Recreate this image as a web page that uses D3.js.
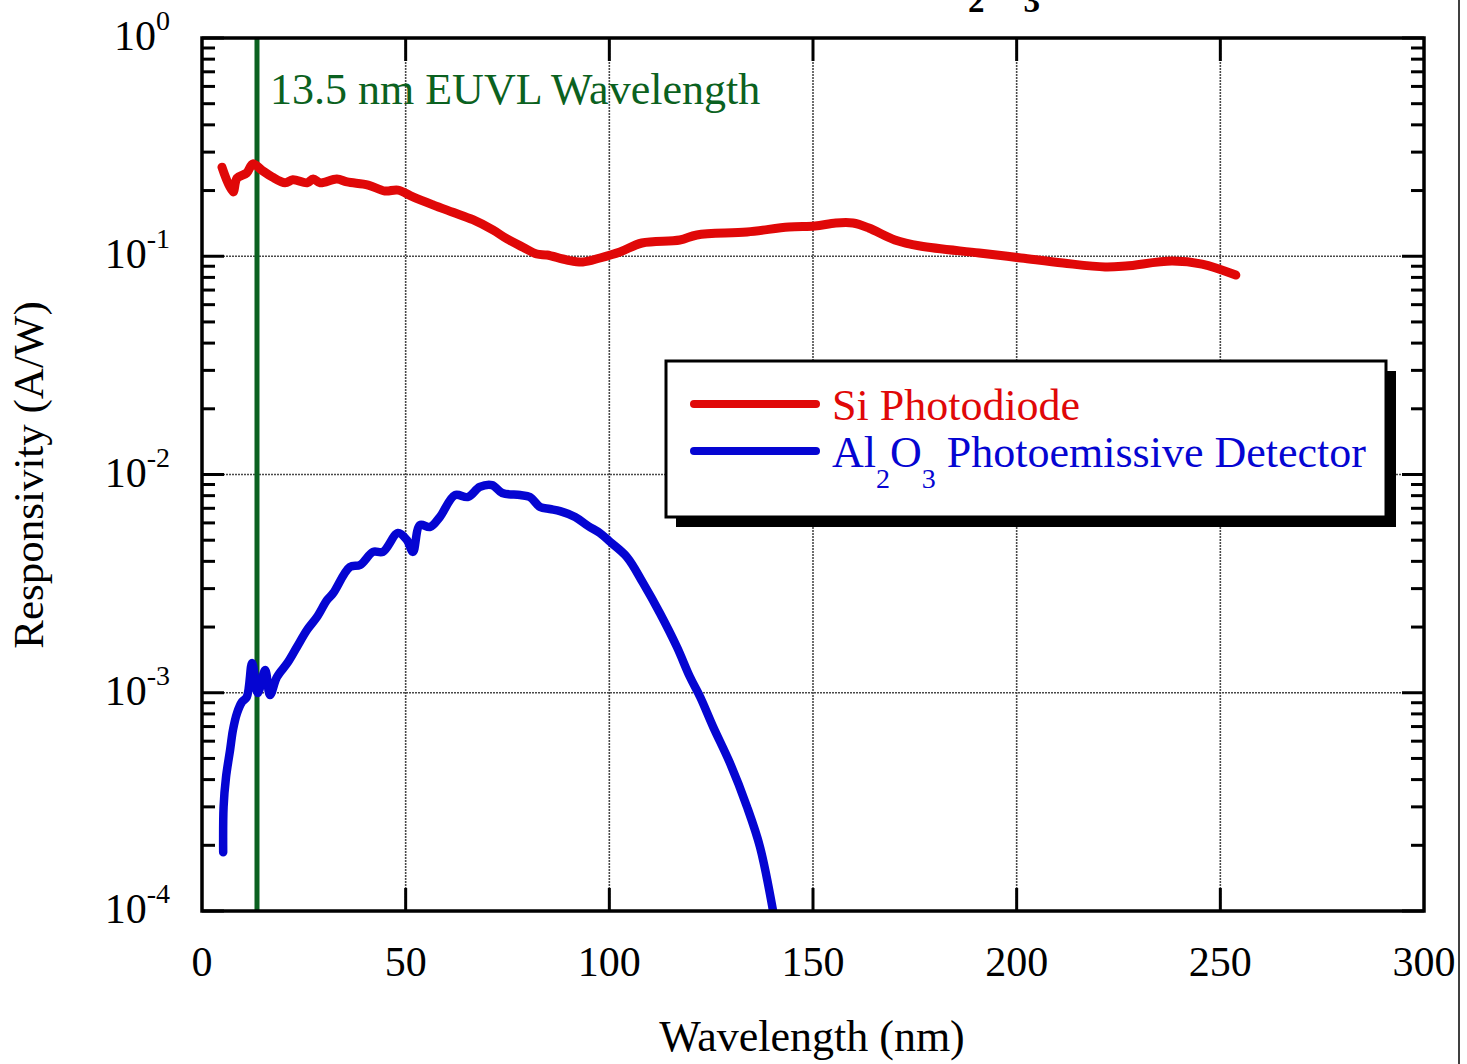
<!DOCTYPE html>
<html>
<head>
<meta charset="utf-8">
<script src="https://cdn.jsdelivr.net/npm/d3@7"></script>
<style>
  html, body { margin: 0; padding: 0; background: #fff; }
  svg { display: block; }
  text { font-family: "Liberation Serif", "Times New Roman", serif; }
</style>
</head>
<body>
<svg id="chart" width="1467" height="1064"></svg>
<script>
// ---- Data ----
const siWavelength = [4.9, 7.6, 8.6, 11.0, 12.5, 14.7, 17.2, 20.4, 22.3, 25.8, 27.3, 29.0, 33.1, 35.6, 40.8, 44.9, 48.1, 51.8, 56.7, 61.6, 66.5, 71.4, 74.9, 78.8, 82.2, 84.7, 89.6, 93.5, 97.7, 102.6, 108.0, 117.3, 121.5, 133.8, 144.1, 150.5, 155.6, 159.8, 163.7, 170.1, 176.3, 190.8, 201.1, 211.4, 221.7, 226.8, 238.1, 245.5, 253.8];
const siResponsivity = [0.256, 0.197, 0.228, 0.241, 0.265, 0.248, 0.231, 0.217, 0.224, 0.217, 0.226, 0.217, 0.226, 0.219, 0.212, 0.199, 0.201, 0.187, 0.172, 0.159, 0.147, 0.132, 0.120, 0.110, 0.1024, 0.1013, 0.0961, 0.0941, 0.0982, 0.1046, 0.115, 0.1187, 0.1252, 0.1292, 0.1362, 0.1376, 0.142, 0.142, 0.1347, 0.1187, 0.1114, 0.1035, 0.0982, 0.0931, 0.0893, 0.0902, 0.0951, 0.0921, 0.082];

const alWavelength = [5.2, 5.3, 5.9, 6.9, 7.6, 8.6, 9.8, 11.0, 12.3, 13.7, 15.5, 16.7, 18.4, 21.1, 23.3, 25.8, 28.2, 30.7, 32.2, 36.3, 38.8, 42.0, 44.4, 48.1, 50.3, 51.8, 53.5, 56.0, 58.4, 62.1, 65.3, 68.2, 71.2, 73.7, 78.1, 80.5, 83.0, 85.4, 87.9, 91.6, 94.8, 97.7, 100.2, 104.3, 108.3, 112.4, 116.6, 119.8, 122.3, 125.5, 129.6, 133.8, 137.0, 140.2];
const alResponsivity = [1.86e-4, 3.0e-4, 4.11e-4, 5.47e-4, 6.75e-4, 8.07e-4, 9.07e-4, 9.56e-4, 1.37e-3, 9.97e-4, 1.27e-3, 9.76e-4, 1.18e-3, 1.38e-3, 1.62e-3, 1.94e-3, 2.22e-3, 2.66e-3, 2.86e-3, 3.77e-3, 3.85e-3, 4.42e-3, 4.42e-3, 5.39e-3, 5.01e-3, 4.42e-3, 5.87e-3, 5.75e-3, 6.39e-3, 8.05e-3, 7.89e-3, 8.77e-3, 8.95e-3, 8.23e-3, 8.05e-3, 7.89e-3, 7.10e-3, 6.95e-3, 6.8e-3, 6.39e-3, 5.81e-3, 5.39e-3, 4.91e-3, 4.19e-3, 3.18e-3, 2.32e-3, 1.62e-3, 1.18e-3, 9.56e-4, 6.97e-4, 4.77e-4, 3.0e-4, 1.96e-4, 1.0e-4];

const xTicks = [0, 50, 100, 150, 200, 250, 300];
const yDecades = [0, -1, -2, -3, -4];
const euvlWavelength = 13.5;
const seriesNames = ["Si Photodiode", "Photoemissive Detector"];
const xTitle = "Wavelength (nm)";
const yTitle = "Responsivity (A/W)";
const euvlLabel = "13.5 nm EUVL Wavelength";

// ---- Layout ----
const svg = d3.select("#chart");
const L = 202, R = 1424, T = 38, B = 911;
const x = d3.scaleLinear().domain([0, 300]).range([L, R]);
const y = d3.scaleLog().domain([1e-4, 1]).range([B, T]);
const FS = 42, FL = 44, SUP = 28;
const red = "#e00808", blue = "#0505d2", green = "#0b6120";

// cut-off title (only its subscripts reach into the picture, as in the reference)
const title = svg.append("text").attr("x", 918).attr("y", -6)
  .attr("font-size", 50).attr("font-weight", "bold").attr("fill", "#000");
title.append("tspan").text("Al");
title.append("tspan").attr("font-size", 33).attr("dy", 18).text("2");
title.append("tspan").attr("dy", -18).text("O");
title.append("tspan").attr("font-size", 33).attr("dy", 18).text("3");

// right page border
svg.append("line").attr("x1", 1459).attr("x2", 1459).attr("y1", 0).attr("y2", 1064)
  .attr("stroke", "#000").attr("stroke-width", 1.5);

// grid
const grid = svg.append("g").attr("stroke", "#4a4a4a").attr("stroke-width", 1.6).attr("stroke-dasharray", "2,1");
xTicks.slice(1, -1).forEach(t => grid.append("line").attr("x1", x(t)).attr("x2", x(t)).attr("y1", T).attr("y2", B));
yDecades.slice(1, -1).forEach(d => grid.append("line").attr("x1", L).attr("x2", R).attr("y1", y(Math.pow(10, d))).attr("y2", y(Math.pow(10, d))));

// clip
svg.append("clipPath").attr("id", "clip").append("rect").attr("x", L).attr("y", T - 2).attr("width", R - L).attr("height", B - T + 2);

// green EUVL line
svg.append("line").attr("x1", x(euvlWavelength)).attr("x2", x(euvlWavelength)).attr("y1", T).attr("y2", B)
  .attr("stroke", green).attr("stroke-width", 5);
svg.append("text").attr("x", 270).attr("y", 104).attr("font-size", FL).attr("fill", green).text(euvlLabel);

// data lines
const line = d3.line().x(d => x(d[0])).y(d => y(d[1])).curve(d3.curveCatmullRom.alpha(0.5));
const plot = svg.append("g").attr("clip-path", "url(#clip)");
plot.append("path").datum(d3.zip(alWavelength, alResponsivity)).attr("d", line)
  .attr("fill", "none").attr("stroke", blue).attr("stroke-width", 8.5).attr("stroke-linejoin", "round").attr("stroke-linecap", "round");
plot.append("path").datum(d3.zip(siWavelength, siResponsivity)).attr("d", line)
  .attr("fill", "none").attr("stroke", red).attr("stroke-width", 9).attr("stroke-linejoin", "round").attr("stroke-linecap", "round");

// axes (ticks inward on all sides)
const axG = svg.append("g").attr("stroke", "#000").attr("stroke-width", 3).attr("stroke-linecap", "butt");
yDecades.forEach(d => {
  const base = Math.pow(10, d);
  const yy = y(base);
  axG.append("line").attr("x1", L).attr("x2", L + 22).attr("y1", yy).attr("y2", yy);
  axG.append("line").attr("x1", R).attr("x2", R - 22).attr("y1", yy).attr("y2", yy);
  if (d < 0) {
    for (let k = 2; k <= 9; k++) {
      const ym = y(base * k);
      axG.append("line").attr("x1", L).attr("x2", L + 13).attr("y1", ym).attr("y2", ym);
      axG.append("line").attr("x1", R).attr("x2", R - 13).attr("y1", ym).attr("y2", ym);
    }
  }
});
xTicks.slice(1, -1).forEach(t => {
  axG.append("line").attr("x1", x(t)).attr("x2", x(t)).attr("y1", B).attr("y2", B - 23);
  axG.append("line").attr("x1", x(t)).attr("x2", x(t)).attr("y1", T).attr("y2", T + 23);
});
svg.append("rect").attr("x", L).attr("y", T).attr("width", R - L).attr("height", B - T)
  .attr("fill", "none").attr("stroke", "#000").attr("stroke-width", 3.5);

// tick labels
xTicks.forEach(t => svg.append("text").attr("x", x(t)).attr("y", 976).attr("text-anchor", "middle")
  .attr("font-size", FS).attr("fill", "#000").text(t));
yDecades.forEach(d => {
  const tx = svg.append("text").attr("x", 170).attr("y", y(Math.pow(10, d)) + 12).attr("text-anchor", "end")
    .attr("font-size", FS).attr("fill", "#000");
  tx.append("tspan").text("10");
  tx.append("tspan").attr("font-size", SUP).attr("dy", -20).text(d === 0 ? "0" : String(d));
});

// axis titles
svg.append("text").attr("x", 812).attr("y", 1051).attr("text-anchor", "middle")
  .attr("font-size", FL).attr("fill", "#000").text(xTitle);
svg.append("text").attr("transform", `translate(43,475) rotate(-90)`).attr("text-anchor", "middle")
  .attr("font-size", 43).attr("fill", "#000").text(yTitle);

// legend
const lg = svg.append("g");
const bx = 666, by = 361, bw = 720, bh = 156, sh = 10;
lg.append("path").attr("d", `M${bx + sh},${by + bh} L${bx + bw},${by + bh} L${bx + bw},${by + sh} L${bx + bw + sh},${by + sh} L${bx + bw + sh},${by + bh + sh} L${bx + sh},${by + bh + sh} Z`).attr("fill", "#000");
lg.append("rect").attr("x", bx).attr("y", by).attr("width", bw).attr("height", bh)
  .attr("fill", "#fff").attr("stroke", "#000").attr("stroke-width", 3);
lg.append("line").attr("x1", 694).attr("x2", 816).attr("y1", 404).attr("y2", 404)
  .attr("stroke", red).attr("stroke-width", 8).attr("stroke-linecap", "round");
lg.append("line").attr("x1", 694).attr("x2", 816).attr("y1", 451).attr("y2", 451)
  .attr("stroke", blue).attr("stroke-width", 8).attr("stroke-linecap", "round");
lg.append("text").attr("x", 832).attr("y", 420).attr("font-size", FL).attr("fill", red).text(seriesNames[0]);
const t2 = lg.append("text").attr("x", 832).attr("y", 467).attr("font-size", FL).attr("fill", blue);
t2.append("tspan").text("Al");
t2.append("tspan").attr("font-size", SUP).attr("dy", 21).text("2");
t2.append("tspan").attr("dy", -21).text("O");
t2.append("tspan").attr("font-size", SUP).attr("dy", 21).text("3");
t2.append("tspan").attr("dy", -21).text(" " + seriesNames[1]);
</script>
</body>
</html>
